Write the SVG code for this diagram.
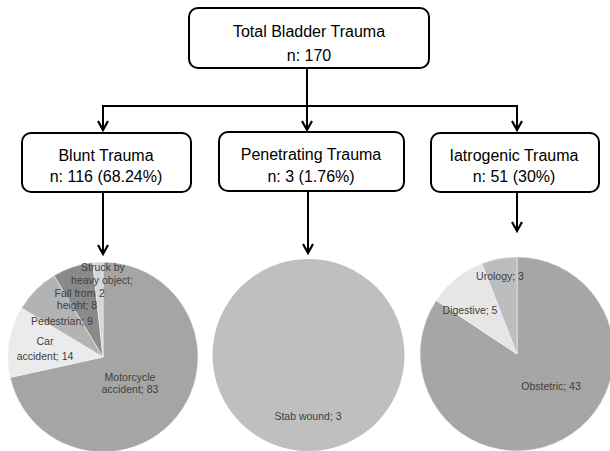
<svg xmlns="http://www.w3.org/2000/svg" width="610" height="451" viewBox="0 0 610 451">
<style>
.box{fill:#fff;stroke:#000;stroke-width:2}
.bt{font-family:"Liberation Sans",Arial,sans-serif;font-size:16px;fill:#000;text-anchor:middle}
.conn{fill:none;stroke:#000;stroke-width:2}
.lbl{font-family:"Liberation Sans",Arial,sans-serif;font-size:10.5px;fill:#404040;text-anchor:middle}
.sl{stroke:#f4f4f4;stroke-width:0.6}
</style>
<defs>
<marker id="arr" markerUnits="userSpaceOnUse" markerWidth="14" markerHeight="14" orient="auto" refX="0" refY="0" overflow="visible">
<path d="M-9,-5 L0,0 L-9,5" fill="none" stroke="#000" stroke-width="2.2" stroke-linejoin="miter"/>
</marker>
</defs>

<g id="connectors">
<line class="conn" x1="307" y1="68" x2="307" y2="130" marker-end="url(#arr)"/>
<polyline class="conn" points="103,130 103,106 517,106 517,130" marker-end="url(#arr)"/>
<line class="conn" x1="103" y1="106" x2="103" y2="130" marker-end="url(#arr)"/>
<line class="conn" x1="103" y1="192" x2="103" y2="254" marker-end="url(#arr)"/>
<line class="conn" x1="308" y1="191" x2="308" y2="253" marker-end="url(#arr)"/>
<line class="conn" x1="517" y1="192" x2="517" y2="231" marker-end="url(#arr)"/>
</g>

<g id="total">
<rect class="box" x="189" y="8" width="240" height="60" rx="9"/>
<text class="bt" x="309" y="37">Total Bladder Trauma</text>
<text class="bt" x="309" y="61">n: 170</text>
</g>

<g id="blunt">
<rect class="box" x="22" y="133" width="169" height="59" rx="9"/>
<text class="bt" x="106" y="161">Blunt Trauma</text>
<text class="bt" x="106" y="182">n: 116 (68.24%)</text>
</g>

<g id="penetrating">
<rect class="box" x="219" y="132" width="185" height="59" rx="9"/>
<text class="bt" x="311" y="160">Penetrating Trauma</text>
<text class="bt" x="311" y="182">n: 3 (1.76%)</text>
</g>

<g id="iatrogenic">
<rect class="box" x="431" y="133" width="168" height="59" rx="9"/>
<text class="bt" x="514" y="161">Iatrogenic Trauma</text>
<text class="bt" x="514" y="182">n: 51 (30%)</text>
</g>

<g id="pie-blunt">
<path class="sl" fill="#a5a5a5" d="M103,357 L103,262 A95,95 0 1 1 10.22,377.42 Z"/>
<path class="sl" fill="#ebebeb" d="M103,357 L10.22,377.42 A95,95 0 0 1 21.60,308.02 Z"/>
<path class="sl" fill="#b3b3b3" d="M103,357 L21.60,308.02 A95,95 0 0 1 54.03,275.60 Z"/>
<path class="sl" fill="#8a8a8a" d="M103,357 L54.03,275.60 A95,95 0 0 1 92.73,262.56 Z"/>
<path class="sl" fill="#d6d6d6" d="M103,357 L92.73,262.56 A95,95 0 0 1 103,262 Z"/>
<text class="lbl" x="103" y="271">Struck by</text>
<text class="lbl" x="102" y="284">heavy object;</text>
<text class="lbl" x="102" y="297">2</text>
<text class="lbl" x="75" y="297">Fall from</text>
<text class="lbl" x="77" y="309">height; 8</text>
<text class="lbl" x="62" y="325">Pedestrian; 9</text>
<text class="lbl" x="45" y="345">Car</text>
<text class="lbl" x="45" y="360">accident; 14</text>
<text class="lbl" x="130" y="381">Motorcycle</text>
<text class="lbl" x="130" y="393">accident; 83</text>
</g>

<g id="pie-penetrating">
<circle cx="308.5" cy="355" r="96" fill="#bfbfbf"/>
<text class="lbl" x="308" y="420">Stab wound; 3</text>
</g>

<g id="pie-iatrogenic">
<path class="sl" fill="#a6a6a6" d="M517,354 L517,257 A97,97 0 1 1 436.15,300.42 Z"/>
<path class="sl" fill="#e6e6e6" d="M517,354 L436.15,300.42 A97,97 0 0 1 481.96,263.55 Z"/>
<path class="sl" fill="#bdbdbd" d="M517,354 L481.96,263.55 A97,97 0 0 1 517,257 Z"/>
<text class="lbl" x="500" y="280">Urology; 3</text>
<text class="lbl" x="470" y="314">Digestive; 5</text>
<text class="lbl" x="551" y="390">Obstetric; 43</text>
</g>
</svg>
